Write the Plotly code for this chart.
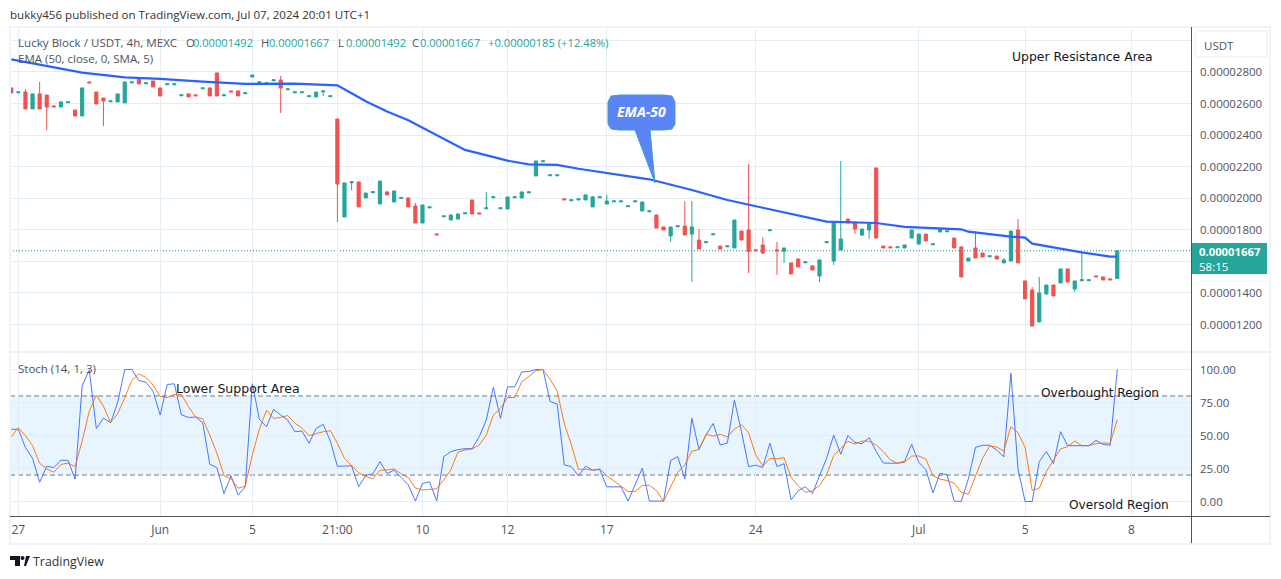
import plotly.graph_objects as go

# prices are in units of 0.00000001 USDT
opens = [2699,2668,2673,2566,2661,2654,2585,2578,2605,2559,
         2521,2737,2673,2635,2611,2610,2604,2731,2762,2725,
         2743,2699,2719,2719,2649,2661,2655,2693,2699,2794,
         2649,2680,2680,2662,2768,2731,2725,2744,2749,2687,
         2668,2668,2643,2642,2674,2643,2502,1881,2098,2103,
         2002,2035,1964,2040,1976,1999,2002,1951,1843,1939,
         1774,1882,1862,1868,1901,1989,1907,1933,2003,1933,
         1932,2003,2002,2034,2141,2231,2142,2142,1996,1984,
         1990,1989,1945,2003,1963,1977,1977,1946,1977,1919,
         1914,1894,1818,1761,1819,1824,1773,1735,1718,1768,
         1697,1692,1685,1792,1799,1673,1704,1794,1673,1664,
         1590,1615,1591,1571,1507,1718,1602,1672,1868,1849,
         1767,1799,2192,1697,1692,1686,1685,1748,1710,1773,
         1705,1786,1787,1748,1691,1602,1685,1653,1629,1634,
         1590,1602,1799,1476,1419,1216,1393,1450,1463,1552,
         1425,1477,1477,1508,1501,1489,1492]
closes = [2667,2674,2566,2661,2566,2578,2579,2610,2611,2521,
          2699,2731,2597,2616,2617,2661,2737,2737,2724,2731,
          2705,2648,2725,2725,2655,2642,2649,2699,2648,2648,
          2655,2674,2648,2668,2781,2737,2731,2750,2699,2693,
          2674,2674,2649,2673,2680,2649,2090,2097,2104,1945,
          2033,2041,2109,2021,2046,2005,1945,1843,1957,1945,
          1768,1888,1894,1900,1907,1900,1901,1939,2009,1939,
          2008,2009,2040,2040,2236,2237,2148,2148,1990,1990,
          1996,2021,2008,2009,1982,1983,1983,1952,1983,1976,
          1920,1811,1799,1818,1825,1767,1818,1678,1724,1774,
          1678,1698,1862,1735,1662,1667,1653,1800,1667,1685,
          1520,1564,1597,1545,1609,1724,1849,1742,1843,1805,
          1805,1837,1748,1685,1686,1692,1704,1799,1773,1729,
          1711,1805,1793,1685,1501,1621,1621,1628,1635,1615,
          1609,1792,1590,1362,1190,1400,1450,1381,1552,1469,
          1476,1483,1483,1502,1482,1483,1667]
highs = [2699,2674,2692,2661,2737,2654,2585,2616,2611,2559,
         2699,2737,2673,2635,2617,2661,2737,2737,2762,2731,
         2743,2699,2725,2725,2655,2661,2655,2699,2699,2794,
         2655,2680,2680,2668,2781,2737,2731,2750,2775,2693,
         2674,2674,2649,2673,2680,2649,2502,2097,2104,2103,
         2033,2041,2109,2046,2046,2005,2002,1970,1957,1945,
         1774,1888,1894,1900,1907,1989,1907,2040,2009,1939,
         2008,2009,2040,2040,2236,2237,2148,2148,1996,1990,
         1996,2021,2014,2009,2021,1983,1983,1952,1983,1976,
         1920,1894,1818,1818,1825,1982,1982,1805,1724,1774,
         1697,1698,1862,1792,2217,1673,1754,1800,1723,1685,
         1590,1615,1597,1577,1609,1724,1849,2236,1868,1849,
         1805,1837,2192,1697,1692,1692,1704,1799,1773,1773,
         1711,1805,1793,1748,1697,1621,1792,1653,1635,1634,
         1621,1792,1868,1476,1438,1501,1450,1450,1552,1552,
         1476,1659,1483,1508,1501,1489,1667]
lows = [2667,2668,2566,2566,2566,2432,2579,2578,2605,2521,
        2521,2731,2597,2458,2611,2610,2604,2731,2724,2725,
        2705,2648,2719,2719,2649,2642,2649,2693,2648,2648,
        2649,2674,2648,2662,2768,2731,2725,2744,2540,2687,
        2668,2668,2643,2642,2648,2643,1850,1881,2052,1945,
        2002,2035,1964,2021,1976,1999,1945,1843,1843,1939,
        1768,1882,1862,1868,1901,1900,1901,1933,2003,1933,
        1932,2003,2002,2034,2141,2231,2142,2142,1990,1984,
        1985,1989,1945,2003,1963,1977,1977,1946,1977,1919,
        1914,1811,1799,1723,1819,1767,1469,1678,1718,1768,
        1678,1692,1685,1735,1526,1667,1647,1794,1514,1590,
        1520,1564,1591,1545,1469,1718,1577,1672,1843,1773,
        1761,1742,1748,1685,1686,1686,1685,1748,1704,1729,
        1705,1786,1787,1685,1501,1602,1621,1628,1629,1615,
        1590,1602,1590,1362,1190,1216,1393,1381,1463,1469,
        1406,1477,1477,1502,1482,1483,1492]

ema_bars = [0,10,16,21,27,33,40,46,48,50,53,56,64,67,70,73,77,80,85,90,96,101,
            106,110,115,122,126,134,135,141,143,144,148,151,155,156]
ema_vals = [2880,2796,2766,2756,2739,2724,2726,2715,2665,2614,2549,2494,2306,2272,2238,2215,2211,
            2187,2152,2120,2052,1989,1940,1900,1852,1843,1818,1803,1788,1757,1750,1712,
            1680,1657,1630,1630]

stoch_k = [54.7,54.7,40.8,32.7,14.6,26.7,25.7,31.2,31.2,16.9,87.7,99.5,55.2,63.2,59.7,74.8,
           100,100,91.7,90.4,83.6,65.5,88.7,89.2,65.7,63.7,64,59.7,28.2,25.7,6,19.4,4.8,11.1,
           89.2,62.2,56.7,69.8,65.5,61.7,52.9,53.4,44.1,55.4,58.4,45.8,26.7,26.7,27,11.3,19.9,
           20.9,30.2,21.2,23.7,18.1,12.6,0.3,13.6,14.9,0.3,34,37.8,39.3,40,40,49.1,61.7,86.6,
           63,86.9,86.9,98.2,98.5,100,100,75.8,73.8,27.7,26.4,19.4,26.7,23.7,24.2,11.1,11.1,
           11.1,0.3,12.6,25.2,0.3,0.3,0.3,31,34,17.1,63,39.5,50.4,59.2,42.8,44.3,76.8,52.9,
           26.4,27.5,25.9,44.1,26.4,28.7,1.3,8.1,11.3,6,18.9,32.7,50.4,35.8,49.9,44.8,43.8,
           48.4,37.8,29.2,29,29,30.5,43.3,29.7,24.2,6.5,21.4,20.2,0.3,0,17.1,41,42.6,42.6,39,
           33.8,97.2,24.7,0,0,30.2,37.8,28.7,52.9,42.3,42.3,42.3,42.3,46.3,43.3,42.6,100]
stoch_d = [49.1,55.9,49.9,42.3,29,24.7,22.2,28,29.2,26.4,45.8,68.5,80.6,72.3,59.7,66.5,78.6,
           91.7,96.7,94,88.2,79.6,78.8,81.1,81.1,71.8,64.2,62.7,50.4,36.5,19.6,17.1,10.1,11.6,
           35.3,54.9,69.3,63,63.7,65.2,59.4,55.7,49.9,51.4,52.9,53.7,44.1,32.7,27.2,21.7,19.1,
           17.1,23.7,23.9,24.7,20.9,18.1,10.1,8.8,9.3,9.6,16.4,23.9,37.3,39,39.8,42.8,50.4,
           65.5,70.5,78.8,78.8,90.7,94.7,99.2,100,92.7,83.6,59.2,42.8,24.4,24.4,23.7,24.7,19.6,
           15.6,11.3,7.6,7.6,12.1,12.3,8.3,0,10.6,22.2,27.7,38,39.5,50.9,49.6,50.9,48.9,54.9,
           58.2,52.1,35.3,27,32.5,32.5,33.2,18.4,11.8,7,8.1,12.1,20.2,34.8,40.3,45.6,43.6,45.8,
           45.6,42.8,37.8,31.5,29,29.7,34.5,34.5,32.2,19.6,16.9,15.9,13.9,6.8,5.5,18.9,32.7,
           42.1,41.3,38.3,56.7,52.1,41,8.3,10.1,22.7,31.5,39.8,41.6,45.8,42.3,42.3,43.8,44.3,
           44.1,62]

bars = list(range(len(opens)))
time_ticks = [1, 21, 34, 46, 58, 70, 84, 105, 128, 143, 158]
time_labels = ["27", "Jun", "5", "21:00", "10", "12", "17", "24", "Jul", "5", "8"]
price_ticks = [1200, 1400, 1600, 1800, 2000, 2200, 2400, 2600, 2800, 3000]
price_labels = ["0.00001200", "0.00001400", "", "0.00001800", "0.00002000", "0.00002200",
                "0.00002400", "0.00002600", "0.00002800", ""]
stoch_ticks = [0, 25, 50, 75, 100]
stoch_labels = ["0.00", "25.00", "50.00", "75.00", "100.00"]
last_close = 1667

W, H = 1281, 579
UP, DOWN = "#26a69a", "#ef5350"
GRID = "#e4edf4"
TEXT = "#50535e"
DARK = "#50535e"
FONT = "Open Sans"


def px(x):
    return x / W


def py(y):
    return 1 - y / H


def label(text, x, y, size=11.5, color=TEXT, anchor="left", font=FONT):
    return dict(text=text, x=px(x), y=py(y), xref="paper", yref="paper", showarrow=False,
                xanchor=anchor, yanchor="middle", borderpad=0, borderwidth=0,
                font=dict(family=font, size=size, color=color))


def screen_line(x0, y0, x1, y1, color, width=1):
    return dict(type="line", xref="paper", yref="paper", x0=px(x0), y0=py(y0), x1=px(x1), y1=py(y1),
                line=dict(color=color, width=width), layer="above")


def poly(points, fill, line_color=None):
    path = "M " + " L ".join(f"{px(a):.5f} {py(b):.5f}" for a, b in points) + " Z"
    return dict(type="path", path=path, xref="paper", yref="paper", fillcolor=fill,
                line=dict(color=line_color or fill, width=1 if line_color else 0), layer="above")


fig = go.Figure()
fig.add_trace(go.Candlestick(x=bars, open=opens, high=highs, low=lows, close=closes,
                             increasing=dict(line=dict(color=UP, width=1), fillcolor=UP),
                             decreasing=dict(line=dict(color=DOWN, width=1), fillcolor=DOWN),
                             whiskerwidth=0, showlegend=False, xaxis="x", yaxis="y"))
fig.add_trace(go.Scatter(x=ema_bars, y=ema_vals, mode="lines", line=dict(color="#2962ff", width=2.2),
                         showlegend=False, xaxis="x", yaxis="y"))
fig.add_trace(go.Scatter(x=bars, y=stoch_k, mode="lines", line=dict(color="#2962ff", width=1),
                         opacity=0.85, showlegend=False, xaxis="x2", yaxis="y2"))
fig.add_trace(go.Scatter(x=bars, y=stoch_d, mode="lines", line=dict(color="#ff6d00", width=1),
                         opacity=0.9, showlegend=False, xaxis="x2", yaxis="y2"))

x_range = [-0.18, 166.4]
x_common = dict(range=x_range, tickmode="array", tickvals=time_ticks, gridcolor=GRID, gridwidth=1,
                zeroline=False, showline=False, fixedrange=True)

shapes = [
    # stoch band and level lines
    dict(type="rect", xref="paper", yref="y2", x0=px(10), x1=px(1191), y0=20, y1=80,
         fillcolor="rgba(33,150,243,0.1)", line=dict(width=0), layer="below"),
    dict(type="line", xref="paper", yref="y2", x0=px(10), x1=px(1191), y0=80, y1=80,
         line=dict(color="#787b86", width=1, dash="5px,3px"), layer="below"),
    dict(type="line", xref="paper", yref="y2", x0=px(10), x1=px(1191), y0=50, y1=50,
         line=dict(color="#a5a8b2", width=1, dash="5px,3px"), layer="below"),
    dict(type="line", xref="paper", yref="y2", x0=px(10), x1=px(1191), y0=20, y1=20,
         line=dict(color="#787b86", width=1, dash="5px,3px"), layer="below"),
    # last price line
    dict(type="line", xref="paper", yref="y", x0=px(10), x1=px(1191), y0=last_close, y1=last_close,
         line=dict(color="#1f8f84", width=1, dash="1px,2px"), layer="below"),
    # frame and pane borders
    dict(type="rect", xref="paper", yref="paper", x0=px(10), x1=px(1270), y0=py(544), y1=py(27),
         line=dict(color="#f0f3fa", width=2), layer="above"),
    screen_line(10, 352, 1270, 352, "#e0e3eb"),
    screen_line(10, 516.5, 1270, 516.5, DARK),
    screen_line(1191.5, 27, 1191.5, 543, DARK),
    # USDT button and last price badge
    dict(type="rect", xref="paper", yref="paper", x0=px(1195), x1=px(1267), y0=py(57), y1=py(31),
         line=dict(color="#f0f3fa", width=1.5), fillcolor="white", layer="above"),
    dict(type="rect", xref="paper", yref="paper", x0=px(1192), x1=px(1267), y0=py(274), y1=py(243),
         line=dict(width=0), fillcolor=UP, layer="above"),
    # EMA-50 callout
    poly([(620, 95), (664, 95), (672, 96), (675, 102), (675, 124), (672, 129), (664, 130), (650, 130),
          (655, 183), (635, 130), (619, 130), (611, 129), (608, 124), (608, 102), (611, 96)],
         "#5b85f7", "#3f9fd0"),
    # TradingView logo
    poly([(10, 556), (20, 556), (20, 566), (15, 566), (15, 560), (10, 560)], "#131722"),
    poly([(24, 566), (26, 566), (30, 556), (26, 556)], "#131722"),
    dict(type="circle", xref="paper", yref="paper", x0=px(20.5), x1=px(24.5), y0=py(560), y1=py(556),
         fillcolor="#131722", line=dict(width=0), layer="above"),
]

annotations = [
    label("bukky456 published on TradingView.com, Jul 07, 2024 20:01 UTC+1", 10, 15, size=11.6, color="#333"),
    label("Lucky Block / USDT, 4h, MEXC", 18, 42, size=11.6),
    label("O", 186, 42, size=11.2), label("0.00001492", 193, 42, size=11.1, color=UP),
    label("H", 261, 42, size=11.2), label("0.00001667", 269, 42, size=11.1, color=UP),
    label("L", 338, 42, size=11.2), label("0.00001492", 346, 42, size=11.1, color=UP),
    label("C", 412, 42, size=11.2), label("0.00001667", 420, 42, size=11.1, color=UP),
    label("+0.00000185 (+12.48%)", 488, 42, size=11.2, color=UP),
    label("EMA (50, close, 0, SMA, 5)", 18, 59),
    label("Stoch (14, 1, 3)", 18, 368),
    label("Upper Resistance Area", 1012, 56, size=12.4, color="#131722", font="DejaVu Sans"),
    label("Lower Support Area", 176, 388, size=12.5, color="#131722", font="DejaVu Sans"),
    label("Overbought Region", 1041, 393, size=12.2, color="#131722", font="DejaVu Sans"),
    label("Oversold Region", 1069, 505, size=12.2, color="#131722", font="DejaVu Sans"),
    label("USDT", 1204, 45, size=11.5),
    label("<b>0.00001667</b>", 1199, 251, size=11.3, color="white"),
    label("58:15", 1199, 266, size=11.5, color="white"),
    label("<b><i>EMA-50</i></b>", 641.5, 112, size=14, color="white", anchor="center"),
    label("TradingView", 33, 561, size=12.4, color="#333"),
]

fig.update_layout(
    width=W, height=H, margin=dict(l=0, r=0, t=0, b=0), paper_bgcolor="white", plot_bgcolor="white",
    dragmode=False, showlegend=False, boxgap=0.36, font=dict(family=FONT, size=11.5, color=TEXT),
    xaxis=dict(domain=[px(10), px(1191)], anchor="y", showticklabels=False, rangeslider=dict(visible=False),
               **x_common),
    xaxis2=dict(domain=[px(10), px(1191)], anchor="y2", ticktext=time_labels, ticks="", ticklabelstandoff=5,
                tickfont=dict(size=12), **x_common),
    yaxis=dict(domain=[py(352), py(27)], range=[1025.6, 3085], side="right", anchor="x", tickmode="array",
               tickvals=price_ticks, ticktext=price_labels, ticks="", ticklabelstandoff=8, gridcolor=GRID,
               zeroline=False, showline=False, fixedrange=True),
    yaxis2=dict(domain=[py(516), py(352)], range=[-11, 113.3], side="right", anchor="x2", tickmode="array",
                tickvals=stoch_ticks, ticktext=stoch_labels, ticks="", ticklabelstandoff=8, gridcolor=GRID,
                zeroline=False, showline=False, fixedrange=True),
    shapes=shapes, annotations=annotations,
)

fig.write_html("out.html", config=dict(displayModeBar=False),
               post_script="document.body.style.margin='0';")
